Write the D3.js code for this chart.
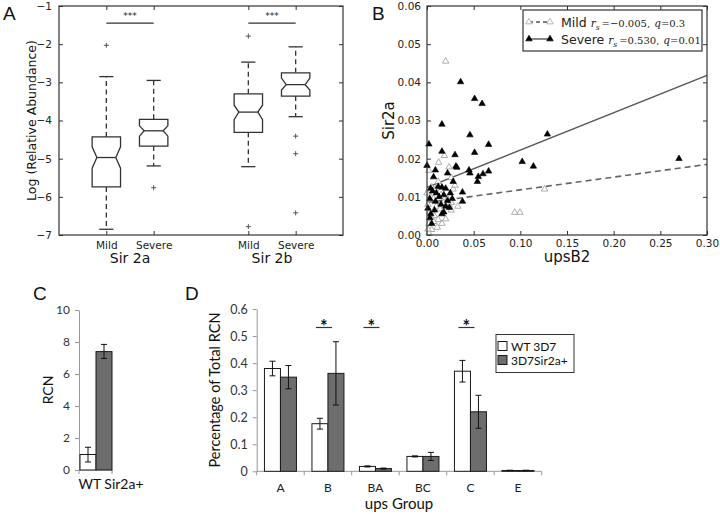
<!DOCTYPE html>
<html><head><meta charset="utf-8">
<script src="https://cdn.jsdelivr.net/npm/d3@7"></script>
<style>body{margin:0;background:#fff}svg{display:block}</style>
</head><body>
<svg id="c" width="720" height="514"></svg>
<script>
// ---------- Panel A data ----------
const boxPositions = [1, 2, 4, 5];
const boxLabels = ["Mild", "Severe", "Mild", "Severe"];
const groupLabels = ["Sir 2a", "Sir 2b"];
const groupCenters = [1.5, 4.5];
const q1 = [-5.74, -4.67, -4.31, -3.36];
const median = [-4.97, -4.27, -3.78, -3.06];
const q3 = [-4.43, -3.97, -3.30, -2.75];
const whiskerLow = [-6.85, -5.19, -5.21, -3.90];
const whiskerHigh = [-2.85, -2.95, -2.47, -2.07];
const notchLow = [-5.25, -4.41, -3.98, -3.20];
const notchHigh = [-4.69, -4.14, -3.60, -2.89];
const outliers = [[-2.03], [-5.76], [-1.79, -6.78], [-4.41, -4.87, -6.42]];
const yTicksA = [-7, -6, -5, -4, -3, -2, -1];

// ---------- Panel B data ----------
const severeX = [0.036,0.051,0.059,0.016,0.002,0.046,0.066,0.129,0.016,0.030,0.051,0.000,0.031,0.032,0.045,0.046,0.055,0.054,0.060,0.066,0.102,0.114,0.270,0.009,0.007,0.022,0.028,0.012,0.004,0.016,0.020,0.006,0.010,0.018,0.025,0.013,0.038,0.003,0.009,0.022,0.038,0.015,0.027,0.001,0.008,0.018,0.024,0.004,0.016,0.005,0.003,0.020];
const severeY = [0.0401,0.0357,0.0344,0.0290,0.0238,0.0262,0.0237,0.0264,0.0219,0.0210,0.0216,0.0182,0.0180,0.0177,0.0170,0.0162,0.0153,0.0140,0.0160,0.0167,0.0192,0.0180,0.0200,0.0170,0.0152,0.0162,0.0140,0.0127,0.0122,0.0125,0.0122,0.0115,0.0110,0.0105,0.0110,0.0100,0.0112,0.0095,0.0088,0.0090,0.0088,0.0080,0.0095,0.0070,0.0065,0.0060,0.0072,0.0055,0.0055,0.0030,0.0045,0.0075];
const mildX = [0.020,0.0125,0.0186,0.002,0.0236,0.126,0.094,0.0995,0.033,0.026,0.020,0.016,0.011,0.005,0.002,0.001,0.004,0.007,0.003,0.008,0.012,0.010,0.014,0.018,0.022,0.026,0.028,0.026,0.012,0.005,0.000,0.002,0.015,0.024,0.007,0.030,0.001,0.009];
const mildY = [0.0455,0.0190,0.0208,0.0169,0.0178,0.0120,0.0059,0.0059,0.0075,0.0065,0.0042,0.0030,0.0020,0.0014,0.0005,0.0080,0.0100,0.0095,0.0060,0.0050,0.0040,0.0075,0.0068,0.0085,0.0095,0.0085,0.0120,0.0150,0.0140,0.0125,0.0110,0.0030,0.0105,0.0078,0.0035,0.0130,0.0015,0.0120];
const severeFit = [[0, 0.0125], [0.30, 0.0418]];
const mildFit = [[0, 0.0085], [0.30, 0.0185]];
const xTicksB = [0, 0.05, 0.10, 0.15, 0.20, 0.25, 0.30];
const yTicksB = [0, 0.01, 0.02, 0.03, 0.04, 0.05, 0.06];

// ---------- Panel C data ----------
const cCategories = ["WT", "Sir2a+"];
const cValues = [0.97, 7.4];
const cErrLow = [0.5, 6.97];
const cErrHigh = [1.42, 7.85];
const yTicksC = [0, 2, 4, 6, 8, 10];

// ---------- Panel D data ----------
const dCategories = ["A", "B", "BA", "BC", "C", "E"];
const dSeries = ["WT 3D7", "3D7Sir2a+"];
const wtValues = [0.380, 0.176, 0.018, 0.055, 0.370, 0.003];
const wtErr = [0.027, 0.020, 0.002, 0.002, 0.040, 0.001];
const sirValues = [0.348, 0.362, 0.010, 0.055, 0.220, 0.003];
const sirErr = [0.043, 0.117, 0.002, 0.015, 0.061, 0.001];
const dSignificant = ["B", "BA", "C"];
const yTicksD = [0, 0.1, 0.2, 0.3, 0.4, 0.5, 0.6];

const svg = d3.select("#c");
const MPL = "DejaVu Sans, sans-serif";
const CAL = "Lato, sans-serif";
const frameCol = "#333";

function letter(txt, x, y) {
  svg.append("text").attr("x", x).attr("y", y).text(txt)
    .attr("font-family", "Liberation Sans, Arial, sans-serif").attr("font-size", 19).attr("fill", "#111");
}

// ================= Panel A =================
{
  const x = d3.scaleLinear().domain([0, 6]).range([59, 343]);
  const y = d3.scaleLinear().domain([-7, -1]).range([235, 6]);
  const g = svg.append("g");
  const tickStyle = sel => {
    sel.select(".domain").remove();
    sel.selectAll("line").attr("stroke", frameCol);
    sel.selectAll("text").attr("font-family", MPL).attr("font-size", 10.5).attr("fill", "#222");
  };
  g.append("g").attr("transform", `translate(${x(0)},0)`)
    .call(d3.axisLeft(y).tickValues(yTicksA).tickSize(-4).tickPadding(7).tickFormat(d => "\u2212" + Math.abs(d)))
    .call(tickStyle);
  g.append("g").attr("transform", `translate(${x(6)},0)`)
    .call(d3.axisRight(y).tickValues(yTicksA).tickSize(-4).tickFormat(""))
    .call(tickStyle);
  g.append("g").attr("transform", `translate(0,${y(-7)})`)
    .call(d3.axisBottom(x).tickValues(boxPositions).tickSize(-4).tickPadding(7).tickFormat((d, i) => boxLabels[i]))
    .call(tickStyle);
  g.append("g").attr("transform", `translate(0,${y(-1)})`)
    .call(d3.axisTop(x).tickValues(boxPositions).tickSize(-4).tickFormat(""))
    .call(tickStyle);
  g.append("rect").attr("x", x(0)).attr("y", y(-1)).attr("width", x(6) - x(0)).attr("height", y(-7) - y(-1))
    .attr("fill", "none").attr("stroke", frameCol).attr("stroke-width", 1.2);

  const w = 0.3, nw = 0.2, cw = 0.15;
  boxPositions.forEach((p, i) => {
    [[q3[i], whiskerHigh[i]], [q1[i], whiskerLow[i]]].forEach(([a, b]) => {
      g.append("line").attr("x1", x(p)).attr("x2", x(p)).attr("y1", y(a)).attr("y2", y(b))
        .attr("stroke", frameCol).attr("stroke-width", 1.3).attr("stroke-dasharray", "5,3.5");
    });
    [whiskerHigh[i], whiskerLow[i]].forEach(v => {
      g.append("line").attr("x1", x(p - cw)).attr("x2", x(p + cw)).attr("y1", y(v)).attr("y2", y(v))
        .attr("stroke", frameCol).attr("stroke-width", 1.3);
    });
    const pts = [[p - w, q1[i]], [p + w, q1[i]], [p + w, notchLow[i]], [p + nw, median[i]], [p + w, notchHigh[i]],
      [p + w, q3[i]], [p - w, q3[i]], [p - w, notchHigh[i]], [p - nw, median[i]], [p - w, notchLow[i]]];
    g.append("path").attr("d", d3.line().x(d => x(d[0])).y(d => y(d[1]))(pts) + "Z")
      .attr("fill", "#fff").attr("stroke", frameCol).attr("stroke-width", 1.3);
    g.append("line").attr("x1", x(p - nw)).attr("x2", x(p + nw)).attr("y1", y(median[i])).attr("y2", y(median[i]))
      .attr("stroke", frameCol).attr("stroke-width", 1.3);
    outliers[i].forEach(o => {
      g.append("path").attr("d", `M${x(p) - 2.5},${y(o)}h5M${x(p)},${y(o) - 2.5}v5`)
        .attr("stroke", "#555").attr("stroke-width", 1);
    });
  });
  [[1, 2], [4, 5]].forEach(([a, b]) => {
    g.append("line").attr("x1", x(a)).attr("x2", x(b)).attr("y1", y(-1.45)).attr("y2", y(-1.45))
      .attr("stroke", frameCol).attr("stroke-width", 1.2);
    g.append("text").attr("x", x((a + b) / 2)).attr("y", y(-1.45) - 4).attr("text-anchor", "middle")
      .attr("font-family", MPL).attr("font-size", 9).attr("fill", "#222").text("***");
  });
  groupCenters.forEach((c, i) => {
    g.append("text").attr("x", x(c)).attr("y", 263).attr("text-anchor", "middle")
      .attr("font-family", MPL).attr("font-size", 14).attr("fill", "#111").text(groupLabels[i]);
  });
  g.append("text").attr("transform", `translate(36,${(y(-1) + y(-7)) / 2}) rotate(-90)`).attr("text-anchor", "middle")
    .attr("font-family", MPL).attr("font-size", 12.5).attr("fill", "#111").text("Log (Relative Abundance)");
  letter("A", 3, 20);
}

// ================= Panel B =================
{
  const x = d3.scaleLinear().domain([0, 0.30]).range([427, 707]);
  const y = d3.scaleLinear().domain([0, 0.06]).range([235, 6]);
  const g = svg.append("g");
  const tickStyle = sel => {
    sel.select(".domain").remove();
    sel.selectAll("line").attr("stroke", frameCol);
    sel.selectAll("text").attr("font-family", MPL).attr("font-size", 10.5).attr("fill", "#222");
  };
  g.append("g").attr("transform", `translate(${x(0)},0)`)
    .call(d3.axisLeft(y).tickValues(yTicksB).tickSize(-4).tickPadding(6).tickFormat(d3.format(".2f"))).call(tickStyle);
  g.append("g").attr("transform", `translate(${x(0.3)},0)`)
    .call(d3.axisRight(y).tickValues(yTicksB).tickSize(-4).tickFormat("")).call(tickStyle);
  g.append("g").attr("transform", `translate(0,${y(0)})`)
    .call(d3.axisBottom(x).tickValues(xTicksB).tickSize(-4).tickPadding(5).tickFormat(d3.format(".2f"))).call(tickStyle);
  g.append("g").attr("transform", `translate(0,${y(0.06)})`)
    .call(d3.axisTop(x).tickValues(xTicksB).tickSize(-4).tickFormat("")).call(tickStyle);

  const line = d3.line().x(d => x(d[0])).y(d => y(d[1]));
  g.append("path").attr("d", line(severeFit)).attr("stroke", "#555").attr("stroke-width", 1.4).attr("fill", "none");
  g.append("path").attr("d", line(mildFit)).attr("stroke", "#666").attr("stroke-width", 1.6).attr("fill", "none")
    .attr("stroke-dasharray", "6,4");
  const tri = d3.symbol().type(d3.symbolTriangle).size(18);
  mildX.forEach((v, i) => {
    g.append("path").attr("d", tri()).attr("transform", `translate(${x(v)},${y(mildY[i])})`)
      .attr("fill", "#fff").attr("stroke", "#999").attr("stroke-width", 0.8);
  });
  severeX.forEach((v, i) => {
    g.append("path").attr("d", tri()).attr("transform", `translate(${x(v)},${y(severeY[i])})`)
      .attr("fill", "#000").attr("stroke", "#000").attr("stroke-width", 0.6);
  });
  g.append("rect").attr("x", x(0)).attr("y", y(0.06)).attr("width", x(0.3) - x(0)).attr("height", y(0) - y(0.06))
    .attr("fill", "none").attr("stroke", frameCol).attr("stroke-width", 1.2);

  // legend
  const lg = g.append("g");
  lg.append("rect").attr("x", 523).attr("y", 10).attr("width", 179).attr("height", 41)
    .attr("fill", "#fff").attr("stroke", frameCol).attr("stroke-width", 1.2);
  const entries = [
    {y: 22, open: true, dash: "4,3", name: "Mild", r: "\u2212" + "0.005", q: "0.3"},
    {y: 39, open: false, dash: null, name: "Severe", r: "0.530", q: "0.01"}
  ];
  const SER = "DejaVu Serif, serif";
  entries.forEach(e => {
    const l = lg.append("line").attr("x1", 529).attr("x2", 550).attr("y1", e.y).attr("y2", e.y)
      .attr("stroke", "#555").attr("stroke-width", 1.4);
    if (e.dash) l.attr("stroke-dasharray", e.dash);
    [529, 550].forEach(mx => {
      lg.append("path").attr("d", tri()).attr("transform", `translate(${mx},${e.y})`)
        .attr("fill", e.open ? "#fff" : "#000").attr("stroke", e.open ? "#999" : "#000").attr("stroke-width", 0.7);
    });
    const pieces = [
      {t: e.name, f: MPL, s: 12.5, it: false, dy: 0, gap: 4},
      {t: "r", f: SER, s: 10.5, it: true, dy: 0, gap: 0},
      {t: "s", f: SER, s: 7.5, it: true, dy: 3, gap: 2},
      {t: "=" + e.r + ",", f: SER, s: 10, it: false, dy: 0, gap: 4},
      {t: "q", f: SER, s: 10.5, it: true, dy: 0, gap: 0},
      {t: "=" + e.q, f: SER, s: 10, it: false, dy: 0, gap: 0}
    ];
    let cx = 561;
    pieces.forEach(p => {
      const t = lg.append("text").attr("x", cx).attr("y", e.y + 4.5 + p.dy).attr("font-family", p.f)
        .attr("font-size", p.s).attr("font-style", p.it ? "italic" : "normal").attr("fill", "#222").text(p.t);
      cx += t.node().getComputedTextLength() + p.gap;
    });
  });

  g.append("text").attr("x", (x(0) + x(0.3)) / 2).attr("y", 262).attr("text-anchor", "middle")
    .attr("font-family", MPL).attr("font-size", 15).attr("fill", "#111").text("upsB2");
  g.append("text").attr("transform", `translate(394,${(y(0) + y(0.06)) / 2}) rotate(-90)`).attr("text-anchor", "middle")
    .attr("font-family", MPL).attr("font-size", 15).attr("fill", "#111").text("Sir2a");
  letter("B", 372, 20);
}

// ================= Panel C =================
{
  const x = d3.scaleBand().domain(cCategories).range([80, 112]).padding(0);
  const y = d3.scaleLinear().domain([0, 10]).range([470, 310]);
  const g = svg.append("g");
  const ax = g.append("g").attr("transform", "translate(79,0)")
    .call(d3.axisLeft(y).tickValues(yTicksC).tickSize(4).tickPadding(5).tickSizeOuter(0));
  ax.select(".domain").attr("stroke", "#999");
  ax.selectAll("line").attr("stroke", "#999");
  ax.selectAll("text").attr("font-family", CAL).attr("font-size", 12).attr("fill", "#333");
  g.append("line").attr("x1", 79).attr("x2", 112).attr("y1", 470).attr("y2", 470).attr("stroke", "#999");
  [79, 112].forEach(t => g.append("line").attr("x1", t).attr("x2", t).attr("y1", 470).attr("y2", 474).attr("stroke", "#999"));
  cCategories.forEach((c, i) => {
    g.append("rect").attr("x", x(c)).attr("y", y(cValues[i])).attr("width", x.bandwidth()).attr("height", y(0) - y(cValues[i]))
      .attr("fill", i === 0 ? "#fff" : "#6d6d6d").attr("stroke", "#1a1a1a").attr("stroke-width", 1);
    const cx = x(c) + x.bandwidth() / 2;
    g.append("path").attr("d", `M${cx},${y(cErrLow[i])}V${y(cErrHigh[i])}M${cx - 3},${y(cErrLow[i])}h6M${cx - 3},${y(cErrHigh[i])}h6`)
      .attr("stroke", "#111").attr("stroke-width", 1).attr("fill", "none");
  });
  g.append("text").attr("x", 111).attr("y", 489).attr("text-anchor", "middle").attr("font-family", CAL)
    .attr("font-size", 14).attr("fill", "#111").text("WT Sir2a+");
  g.append("text").attr("transform", `translate(53,390) rotate(-90)`).attr("text-anchor", "middle")
    .attr("font-family", CAL).attr("font-size", 14).attr("fill", "#111").text("RCN");
  letter("C", 33, 300);
}

// ================= Panel D =================
{
  const x = d3.scaleBand().domain(dCategories).range([256.7, 541.7]);
  const y = d3.scaleLinear().domain([0, 0.6]).range([471.3, 309]);
  const g = svg.append("g");
  const ax = g.append("g").attr("transform", "translate(256.7,0)")
    .call(d3.axisLeft(y).tickValues(yTicksD).tickSize(4).tickPadding(5).tickSizeOuter(0)
      .tickFormat(d => d === 0 ? "0" : d.toFixed(1)));
  ax.select(".domain").attr("stroke", "#999");
  ax.selectAll("line").attr("stroke", "#999");
  ax.selectAll("text").attr("font-family", CAL).attr("font-size", 12.5).attr("fill", "#333");
  g.append("line").attr("x1", 256.7).attr("x2", 541.7).attr("y1", y(0)).attr("y2", y(0)).attr("stroke", "#999");
  d3.range(7).forEach(k => {
    const t = 256.7 + k * x.step();
    g.append("line").attr("x1", t).attr("x2", t).attr("y1", y(0)).attr("y2", y(0) + 4).attr("stroke", "#999");
  });
  const bw = 16;
  dCategories.forEach((c, i) => {
    const cx = x(c) + x.bandwidth() / 2;
    [[wtValues[i], wtErr[i], "#fff", cx - bw], [sirValues[i], sirErr[i], "#6d6d6d", cx]].forEach(([v, e, fill, bx]) => {
      g.append("rect").attr("x", bx).attr("y", y(v)).attr("width", bw).attr("height", y(0) - y(v))
        .attr("fill", fill).attr("stroke", "#1a1a1a").attr("stroke-width", 1);
      const ex = bx + bw / 2;
      g.append("path").attr("d", `M${ex},${y(v - e)}V${y(v + e)}M${ex - 3},${y(v - e)}h6M${ex - 3},${y(v + e)}h6`)
        .attr("stroke", "#111").attr("stroke-width", 1).attr("fill", "none");
    });
    g.append("text").attr("x", cx).attr("y", 492).attr("text-anchor", "middle").attr("font-family", CAL)
      .attr("font-size", 12).attr("fill", "#222").text(c);
    if (dSignificant.includes(c)) {
      g.append("line").attr("x1", cx - 12).attr("x2", cx + 4).attr("y1", 327.5).attr("y2", 327.5)
        .attr("stroke", "#333").attr("stroke-width", 1.2);
      g.append("text").attr("x", cx - 4).attr("y", 333).attr("text-anchor", "middle").attr("font-family", CAL)
        .attr("font-size", 18).attr("font-weight", "bold").attr("fill", "#111").text("*");
    }
  });
  g.append("rect").attr("x", 496).attr("y", 334.5).attr("width", 78).attr("height", 38)
    .attr("fill", "#fff").attr("stroke", "#333").attr("stroke-width", 1);
  dSeries.forEach((s, i) => {
    const ly = 346.5 + i * 14;
    g.append("rect").attr("x", 498).attr("y", ly - 5).attr("width", 9).attr("height", 9)
      .attr("fill", i === 0 ? "#fff" : "#6d6d6d").attr("stroke", "#1a1a1a").attr("stroke-width", 1);
    g.append("text").attr("x", 511).attr("y", ly + 4).attr("font-family", CAL).attr("font-size", 12)
      .attr("fill", "#111").text(s);
  });
  g.append("text").attr("x", 399).attr("y", 509).attr("text-anchor", "middle").attr("font-family", CAL)
    .attr("font-size", 15).attr("fill", "#111").text("ups Group");
  g.append("text").attr("transform", `translate(220,390) rotate(-90)`).attr("text-anchor", "middle")
    .attr("font-family", CAL).attr("font-size", 14.5).attr("fill", "#111").text("Percentage of Total RCN");
  letter("D", 185, 300);
}
</script>
</body></html>
